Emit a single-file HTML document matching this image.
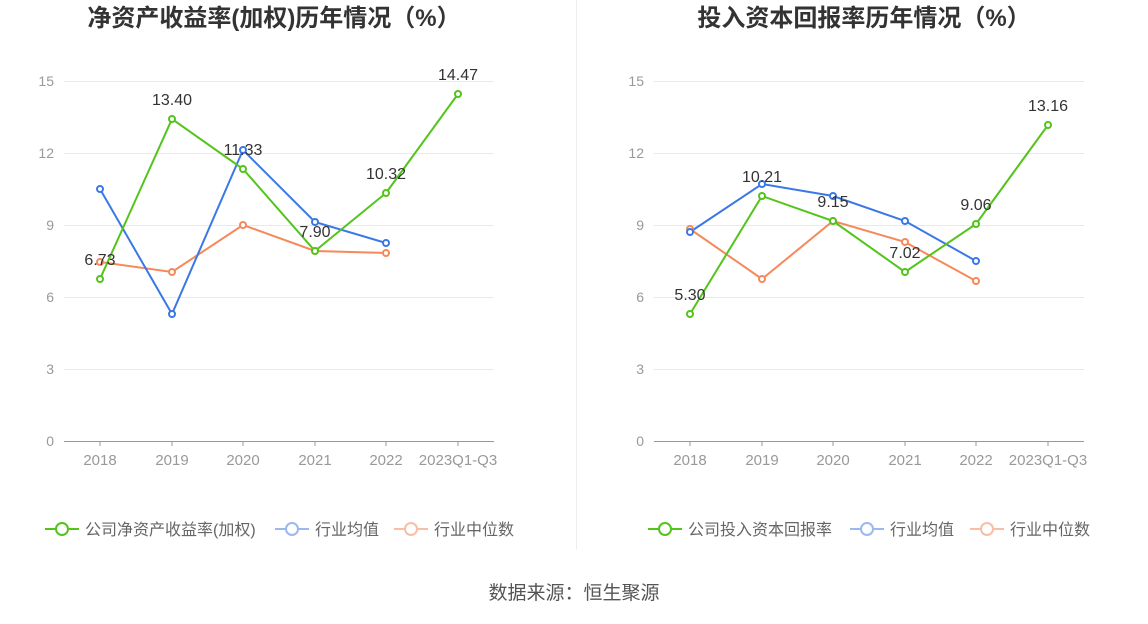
<!DOCTYPE html>
<html><head><meta charset="utf-8"><style>
body{margin:0;background:#fff;}
svg text{font-family:"Liberation Sans","Noto Sans CJK SC",sans-serif;}
</style></head><body>
<svg width="1148" height="619" viewBox="0 0 1148 619" xmlns="http://www.w3.org/2000/svg">
<rect width="1148" height="619" fill="#fff"/>
<line x1="576.5" y1="0" x2="576.5" y2="550" stroke="#eee"/>
<text x="274" y="26" text-anchor="middle" font-size="24" font-weight="bold" fill="#333">净资产收益率(加权)历年情况（%）</text>
<text x="864" y="26" text-anchor="middle" font-size="24" font-weight="bold" fill="#333">投入资本回报率历年情况（%）</text>
<g font-size="14" fill="#999" text-anchor="end">
<text x="54" y="446">0</text><text x="54" y="374">3</text><text x="54" y="302">6</text><text x="54" y="230">9</text><text x="54" y="158">12</text><text x="54" y="86">15</text>
<text x="644" y="446">0</text><text x="644" y="374">3</text><text x="644" y="302">6</text><text x="644" y="230">9</text><text x="644" y="158">12</text><text x="644" y="86">15</text>
</g>
<g stroke="#e6e9f0">
<line x1="64" x2="494" y1="369.5" y2="369.5"/><line x1="64" x2="494" y1="297.5" y2="297.5"/><line x1="64" x2="494" y1="225.5" y2="225.5"/><line x1="64" x2="494" y1="153.5" y2="153.5"/><line x1="64" x2="494" y1="81.5" y2="81.5"/>
<line x1="654" x2="1084" y1="369.5" y2="369.5"/><line x1="654" x2="1084" y1="297.5" y2="297.5"/><line x1="654" x2="1084" y1="225.5" y2="225.5"/><line x1="654" x2="1084" y1="153.5" y2="153.5"/><line x1="654" x2="1084" y1="81.5" y2="81.5"/>
</g>
<g stroke="#999"><line x1="64" x2="494" y1="441.5" y2="441.5"/><line x1="654" x2="1084" y1="441.5" y2="441.5"/>
<path d="M100 441v5M172 441v5M243 441v5M315 441v5M386 441v5M458 441v5M690 441v5M762 441v5M833 441v5M905 441v5M976 441v5M1048 441v5"/></g>
<g font-size="15" fill="#999" text-anchor="middle">
<text x="100" y="465">2018</text><text x="172" y="465">2019</text><text x="243" y="465">2020</text><text x="315" y="465">2021</text><text x="386" y="465">2022</text><text x="458" y="465">2023Q1-Q3</text>
<text x="690" y="465">2018</text><text x="762" y="465">2019</text><text x="833" y="465">2020</text><text x="905" y="465">2021</text><text x="976" y="465">2022</text><text x="1048" y="465">2023Q1-Q3</text>
</g>
<g fill="#fff" stroke-width="2">
<polyline fill="none" stroke="#f5895a" points="100,262 172,272 243,225 315,251 386,253"/>
<polyline fill="none" stroke="#3a78e6" points="100,189 172,314 243,150 315,222 386,243"/>
<polyline fill="none" stroke="#52c41a" points="100,279 172,119 243,169 315,251 386,193 458,94"/>
<g stroke="#f5895a"><circle cx="100" cy="262" r="3"/><circle cx="172" cy="272" r="3"/><circle cx="243" cy="225" r="3"/><circle cx="315" cy="251" r="3"/><circle cx="386" cy="253" r="3"/></g>
<g stroke="#3a78e6"><circle cx="100" cy="189" r="3"/><circle cx="172" cy="314" r="3"/><circle cx="243" cy="150" r="3"/><circle cx="315" cy="222" r="3"/><circle cx="386" cy="243" r="3"/></g>
<g stroke="#52c41a"><circle cx="100" cy="279" r="3"/><circle cx="172" cy="119" r="3"/><circle cx="243" cy="169" r="3"/><circle cx="315" cy="251" r="3"/><circle cx="386" cy="193" r="3"/><circle cx="458" cy="94" r="3"/></g>
<polyline fill="none" stroke="#f5895a" points="690,229 762,279 833,221 905,242 976,281"/>
<polyline fill="none" stroke="#3a78e6" points="690,232 762,184 833,196 905,221 976,261"/>
<polyline fill="none" stroke="#52c41a" points="690,314 762,196 833,221 905,272 976,224 1048,125"/>
<g stroke="#f5895a"><circle cx="690" cy="229" r="3"/><circle cx="762" cy="279" r="3"/><circle cx="833" cy="221" r="3"/><circle cx="905" cy="242" r="3"/><circle cx="976" cy="281" r="3"/></g>
<g stroke="#3a78e6"><circle cx="690" cy="232" r="3"/><circle cx="762" cy="184" r="3"/><circle cx="833" cy="196" r="3"/><circle cx="905" cy="221" r="3"/><circle cx="976" cy="261" r="3"/></g>
<g stroke="#52c41a"><circle cx="690" cy="314" r="3"/><circle cx="762" cy="196" r="3"/><circle cx="833" cy="221" r="3"/><circle cx="905" cy="272" r="3"/><circle cx="976" cy="224" r="3"/><circle cx="1048" cy="125" r="3"/></g>
</g>
<g font-size="16" fill="#333" text-anchor="middle">
<text x="100" y="265">6.73</text><text x="172" y="105">13.40</text><text x="243" y="155">11.33</text><text x="315" y="237">7.90</text><text x="386" y="179">10.32</text><text x="458" y="80">14.47</text>
<text x="690" y="300">5.30</text><text x="762" y="182">10.21</text><text x="833" y="207">9.15</text><text x="905" y="258">7.02</text><text x="976" y="210">9.06</text><text x="1048" y="111">13.16</text>
</g>
<g font-size="16" fill="#666">
<line x1="45" x2="79" y1="529" y2="529" stroke="#52c41a" stroke-width="2"/><circle cx="62" cy="529" r="6" fill="#fff" stroke="#52c41a" stroke-width="2"/><text x="85" y="535">公司净资产收益率(加权)</text>
<line x1="275" x2="309" y1="529" y2="529" stroke="#9bb8f0" stroke-width="2"/><circle cx="292" cy="529" r="6" fill="#fff" stroke="#9bb8f0" stroke-width="2"/><text x="315" y="535">行业均值</text>
<line x1="394" x2="428" y1="529" y2="529" stroke="#f9bfa3" stroke-width="2"/><circle cx="411" cy="529" r="6" fill="#fff" stroke="#f9bfa3" stroke-width="2"/><text x="434" y="535">行业中位数</text>
<line x1="648" x2="682" y1="529" y2="529" stroke="#52c41a" stroke-width="2"/><circle cx="665" cy="529" r="6" fill="#fff" stroke="#52c41a" stroke-width="2"/><text x="688" y="535">公司投入资本回报率</text>
<line x1="850" x2="884" y1="529" y2="529" stroke="#9bb8f0" stroke-width="2"/><circle cx="867" cy="529" r="6" fill="#fff" stroke="#9bb8f0" stroke-width="2"/><text x="890" y="535">行业均值</text>
<line x1="970" x2="1004" y1="529" y2="529" stroke="#f9bfa3" stroke-width="2"/><circle cx="987" cy="529" r="6" fill="#fff" stroke="#f9bfa3" stroke-width="2"/><text x="1010" y="535">行业中位数</text>
</g>
<text x="574" y="599" text-anchor="middle" font-size="19" fill="#555">数据来源：恒生聚源</text>
</svg>
</body></html>
